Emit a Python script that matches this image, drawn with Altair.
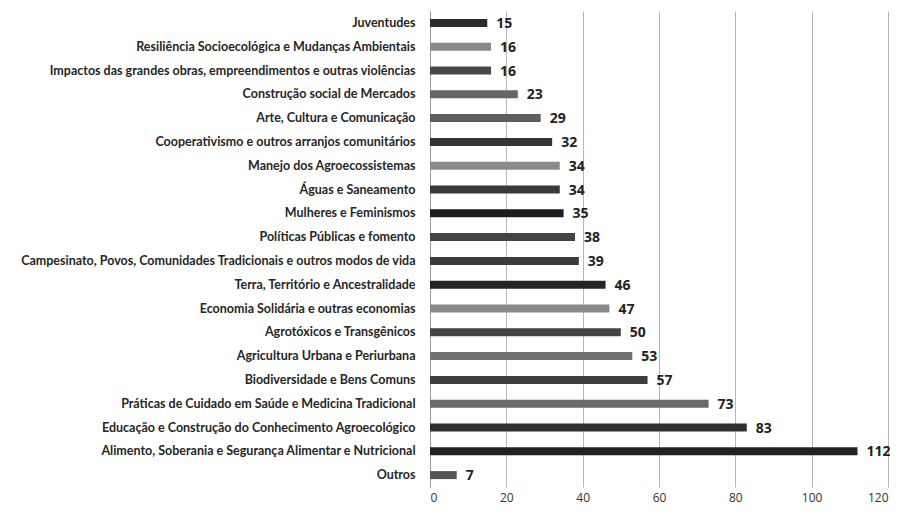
import altair as alt
import pandas as pd

categories = [
    "Juventudes",
    "Resiliência Socioecológica e Mudanças Ambientais",
    "Impactos das grandes obras, empreendimentos e outras violências",
    "Construção social de Mercados",
    "Arte, Cultura e Comunicação",
    "Cooperativismo e outros arranjos comunitários",
    "Manejo dos Agroecossistemas",
    "Águas e Saneamento",
    "Mulheres e Feminismos",
    "Políticas Públicas e fomento",
    "Campesinato, Povos, Comunidades Tradicionais e outros modos de vida",
    "Terra, Território e Ancestralidade",
    "Economia Solidária e outras economias",
    "Agrotóxicos e Transgênicos",
    "Agricultura Urbana e Periurbana",
    "Biodiversidade e Bens Comuns",
    "Práticas de Cuidado em Saúde e Medicina Tradicional",
    "Educação e Construção do Conhecimento Agroecológico",
    "Alimento, Soberania e Segurança Alimentar e Nutricional",
    "Outros",
]
values = [15, 16, 16, 23, 29, 32, 34, 34, 35, 38, 39, 46, 47, 50, 53, 57, 73, 83, 112, 7]
shades = [
    "#2b2b2b", "#8a8a8a", "#484848", "#666666", "#5e5e5e",
    "#333333", "#8c8c8c", "#3a3a3a", "#1e1e1e", "#444444",
    "#3c3c3c", "#252525", "#8a8a8a", "#444444", "#707070",
    "#3e3e3e", "#6a6a6a", "#303030", "#222222", "#555555",
]
x_ticks = [0, 20, 40, 60, 80, 100, 120]

df = pd.DataFrame({"cat": categories, "val": values, "shade": shades})

y_enc = alt.Y(
    "cat:N",
    sort=categories,
    title=None,
    axis=alt.Axis(
        ticks=False,
        labelPadding=15,
        labelFont="Lato",
        labelFontSize=12.5,
        labelFontWeight="bold",
        labelColor="#262626",
        labelLimit=600,
        domainColor="#9a9a9a",
        grid=False,
    ),
)
x_enc = alt.X(
    "val:Q",
    title=None,
    scale=alt.Scale(domain=[0, 120], nice=False),
    axis=alt.Axis(
        values=x_ticks,
        grid=True,
        gridColor="#b8b8b8",
        domain=False,
        ticks=False,
        labelPadding=5,
        labelFont="Open Sans",
        labelFontSize=12,
        labelColor="#333333",
    ),
)

bars = alt.Chart(df).mark_bar(size=8).encode(
    x=x_enc,
    y=y_enc,
    color=alt.Color("shade:N", scale=None),
)
labels = alt.Chart(df).mark_text(
    align="left", baseline="middle", dx=9, dy=1,
    font="Open Sans", fontWeight="bold", fontSize=14, color="#222222",
).encode(
    x="val:Q",
    y=alt.Y("cat:N", sort=categories),
    text="val:Q",
)

chart = (
    (bars + labels)
    .properties(
        width=458,
        height=476,
        autosize=alt.AutoSizeParams(type="none"),
        padding={"left": 422, "top": 3, "right": 2, "bottom": 21},
        background="white",
    )
    .configure_view(strokeWidth=0)
)

chart.save("out.html", embed_options={"renderer": "svg", "actions": False})
